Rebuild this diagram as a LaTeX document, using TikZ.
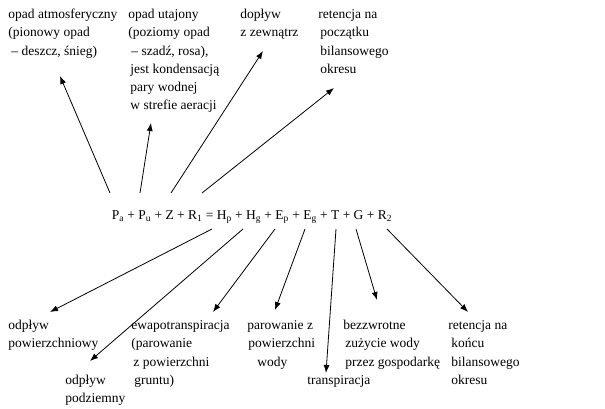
\documentclass[tikz,border=0pt]{standalone}
\usepackage{fontspec}
\setmainfont{Liberation Serif}
\usepackage{tikz}
\usetikzlibrary{arrows.meta}

\begin{document}
\begin{tikzpicture}[x=1pt, y=-1pt, >={Latex[length=8pt,width=6pt]}, line width=0.8pt,
    lbl/.style={anchor=base west, inner sep=0pt, align=left, font=\fontsize{13.5}{18.3}\selectfont}]
    \useasboundingbox (0,0) rectangle (605,409);

    % the balance equation
    \node[lbl, anchor=base] (bilans) at (252,219.5)
        {P\textsubscript{a} + P\textsubscript{u} + Z + R\textsubscript{1} = H\textsubscript{p} + H\textsubscript{g} + E\textsubscript{p} + E\textsubscript{g} + T + G + R\textsubscript{2}};

    % inflow terms (placed at the baseline of the last line)
    \node[lbl] (atmos) at (8,55.1) {opad atmosferyczny\\(pionowy opad\\\hspace{3pt}– deszcz, śnieg)};
    \node[lbl] (utaj) at (128,110) {opad utajony\\(poziomy opad\\\hspace{3pt}– szadź, rosa),\\\hspace{2pt}jest kondensacją\\\hspace{2pt}pary wodnej\\\hspace{2pt}w strefie aeracji};
    \node[lbl] (doplyw) at (240,36.8) {dopływ\\z zewnątrz};
    \node[lbl] (ret1) at (318,73.4) {retencja na\\\hspace{2pt}początku\\\hspace{2pt}bilansowego\\\hspace{2pt}okresu};

    % outflow terms
    \node[lbl] (odpow) at (8,347.8) {odpływ\\powierzchniowy};
    \node[lbl] (odpodz) at (65,402.8) {odpływ\\podziemny};
    \node[lbl] (ewapo) at (131,384.4) {ewapotranspiracja\\(parowanie\\\hspace{2pt}z powierzchni\\\hspace{3pt}gruntu)};
    \node[lbl] (parow) at (247,366.1) {parowanie z\\\hspace{1pt}powierzchni\\\hspace{10pt}wody};
    \node[lbl] (transp) at (307,384.5) {transpiracja};
    \node[lbl] (bezzw) at (343,366.1) {bezzwrotne\\\hspace{2pt}zużycie wody\\\hspace{2pt}przez gospodarkę};
    \node[lbl] (ret2) at (448,384.4) {retencja na\\\hspace{3pt}końcu\\\hspace{3pt}bilansowego\\\hspace{3pt}okresu};

    % arrow ends
    \coordinate (sPa) at (110,193);  \coordinate (tPa) at (60,76);
    \coordinate (sPu) at (140,193);  \coordinate (tPu) at (151,123);
    \coordinate (sZ)  at (171,193);  \coordinate (tZ)  at (263,51);
    \coordinate (sR1) at (202,193);  \coordinate (tR1) at (334,88);
    \coordinate (sHp) at (212,229);  \coordinate (tHp) at (50,312);
    \coordinate (sHg) at (243,229);  \coordinate (tHg) at (90,361);
    \coordinate (sEp) at (275,229);  \coordinate (tEp) at (213,312);
    \coordinate (sEg) at (305,229);  \coordinate (tEg) at (275,310);
    \coordinate (sT)  at (336,229);  \coordinate (tT)  at (326,373);
    \coordinate (sG)  at (356,229);  \coordinate (tG)  at (377,300);
    \coordinate (sR2) at (387,229);  \coordinate (tR2) at (468,312);

    \foreach \k in {Pa,Pu,Z,R1,Hp,Hg,Ep,Eg,T,G,R2}
        \draw[->] (s\k) -- (t\k);
\end{tikzpicture}
\end{document}
